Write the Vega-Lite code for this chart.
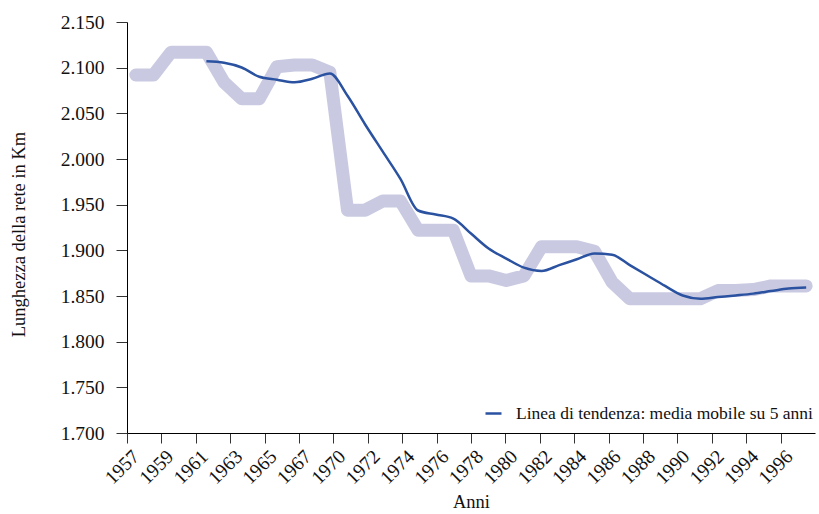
{
  "$schema": "https://vega.github.io/schema/vega-lite/v6.json",
  "width": 688,
  "height": 411,
  "autosize": {"type": "none"},
  "padding": {"left": 127, "top": 22, "right": 4, "bottom": 81},
  "background": "white",
  "config": {
    "font": "Liberation Serif",
    "view": {"stroke": null},
    "axis": {"grid": false, "domainColor": "#000000", "tickColor": "#333333", "labelColor": "#111111", "titleColor": "#111111", "labelFont": "Liberation Serif", "titleFont": "Liberation Serif", "titleFontWeight": "normal"}
  },
  "data": {
    "values": [
      {"year": 1957, "km": 2092, "ma": null},
      {"year": 1958, "km": 2092, "ma": null},
      {"year": 1959, "km": 2117, "ma": null},
      {"year": 1960, "km": 2117, "ma": null},
      {"year": 1961, "km": 2117, "ma": 2107},
      {"year": 1962, "km": 2084, "ma": 2105.4},
      {"year": 1963, "km": 2066, "ma": 2100.2},
      {"year": 1964, "km": 2066, "ma": 2090},
      {"year": 1965, "km": 2101, "ma": 2086.8},
      {"year": 1966, "km": 2103, "ma": 2084},
      {"year": 1967, "km": 2103, "ma": 2087.8},
      {"year": 1970, "km": 2095, "ma": 2093.6},
      {"year": 1971, "km": 1944, "ma": 2069.2},
      {"year": 1972, "km": 1944, "ma": 2037.8},
      {"year": 1973, "km": 1954, "ma": 2008},
      {"year": 1974, "km": 1954, "ma": 1978.2},
      {"year": 1975, "km": 1922, "ma": 1943.6},
      {"year": 1976, "km": 1922, "ma": 1939.2},
      {"year": 1977, "km": 1922, "ma": 1934.8},
      {"year": 1978, "km": 1872, "ma": 1918.4},
      {"year": 1979, "km": 1872, "ma": 1902},
      {"year": 1980, "km": 1867, "ma": 1891},
      {"year": 1981, "km": 1872, "ma": 1881},
      {"year": 1982, "km": 1904, "ma": 1877.4},
      {"year": 1983, "km": 1904, "ma": 1883.8},
      {"year": 1984, "km": 1904, "ma": 1890.2},
      {"year": 1985, "km": 1899, "ma": 1896.6},
      {"year": 1986, "km": 1865, "ma": 1895.2},
      {"year": 1987, "km": 1847, "ma": 1883.8},
      {"year": 1988, "km": 1847, "ma": 1872.4},
      {"year": 1989, "km": 1847, "ma": 1861},
      {"year": 1990, "km": 1847, "ma": 1850.6},
      {"year": 1991, "km": 1847, "ma": 1847},
      {"year": 1992, "km": 1856, "ma": 1848.8},
      {"year": 1993, "km": 1856, "ma": 1850.6},
      {"year": 1994, "km": 1857, "ma": 1852.6},
      {"year": 1995, "km": 1861, "ma": 1855.4},
      {"year": 1996, "km": 1861, "ma": 1858.2},
      {"year": 1997, "km": 1861, "ma": 1859.2}
    ]
  },
  "layer": [
    {
      "layer": [
        {
          "mark": {"type": "line", "color": "#c9cae2", "strokeWidth": 13, "strokeCap": "round", "strokeJoin": "round"},
          "encoding": {
            "x": {"field": "year", "type": "ordinal", "scale": {"type": "point", "padding": 0.5}, "axis": null},
            "y": {
              "field": "km", "type": "quantitative",
              "scale": {"domain": [1700, 2150], "nice": false, "zero": false},
              "axis": {
                "values": [1700, 1750, 1800, 1850, 1900, 1950, 2000, 2050, 2100, 2150],
                "labelExpr": "replace(format(datum.value, ','), ',', '.')",
                "labelFontSize": 19.5,
                "tickSize": 11,
                "labelPadding": 12,
                "title": "Lunghezza della rete in Km",
                "titleFontSize": 18.5,
                "titlePadding": 32,
                "titleY": 212
              }
            }
          }
        },
        {
          "mark": {"type": "line", "strokeWidth": 2.5, "interpolate": "monotone"},
          "encoding": {
            "x": {"field": "year", "type": "ordinal", "scale": {"type": "point", "padding": 0.5}, "axis": null},
            "y": {"field": "ma", "type": "quantitative"},
            "color": {
              "datum": "Linea di tendenza: media mobile su 5 anni",
              "type": "nominal",
              "scale": {"range": ["#2a52a0"]},
              "legend": {
                "title": null,
                "orient": "none",
                "legendX": 357,
                "legendY": 382,
                "padding": 0,
                "symbolType": "stroke",
                "symbolSize": 256,
                "symbolStrokeWidth": 2.5,
                "labelOffset": 13,
                "labelFont": "Liberation Serif",
                "labelFontSize": 17.5,
                "labelColor": "#111111",
                "labelLimit": 0
              }
            }
          }
        }
      ]
    },
    {
      "mark": {"type": "point", "opacity": 0},
      "encoding": {
        "x": {
          "field": "year", "type": "quantitative",
          "scale": {"domain": [1956.5, 1996.5], "nice": false, "zero": false},
          "axis": {
            "values": [1957, 1959, 1961, 1963, 1965, 1967, 1969, 1971, 1973, 1975, 1977, 1979, 1981, 1983, 1985, 1987, 1989, 1991, 1993, 1995, 1997],
            "labelExpr": "datum.value == 1997 ? '' : (datum.value >= 1969 ? toString(datum.value + 1) : toString(datum.value))",
            "tickOffset": -8.6,
            "labelOffset": 8.6,
            "labelAngle": -45,
            "labelAlign": "right",
            "labelBaseline": "middle",
            "labelFlush": false,
            "labelOverlap": false,
            "labelBound": false,
            "labelFontSize": 19.5,
            "tickSize": 10,
            "labelPadding": 10,
            "title": "Anni",
            "titleFontSize": 18.5,
            "titlePadding": 5
          }
        },
        "y": {"field": "km", "type": "quantitative"}
      }
    }
  ],
  "resolve": {"scale": {"x": "independent"}}
}
